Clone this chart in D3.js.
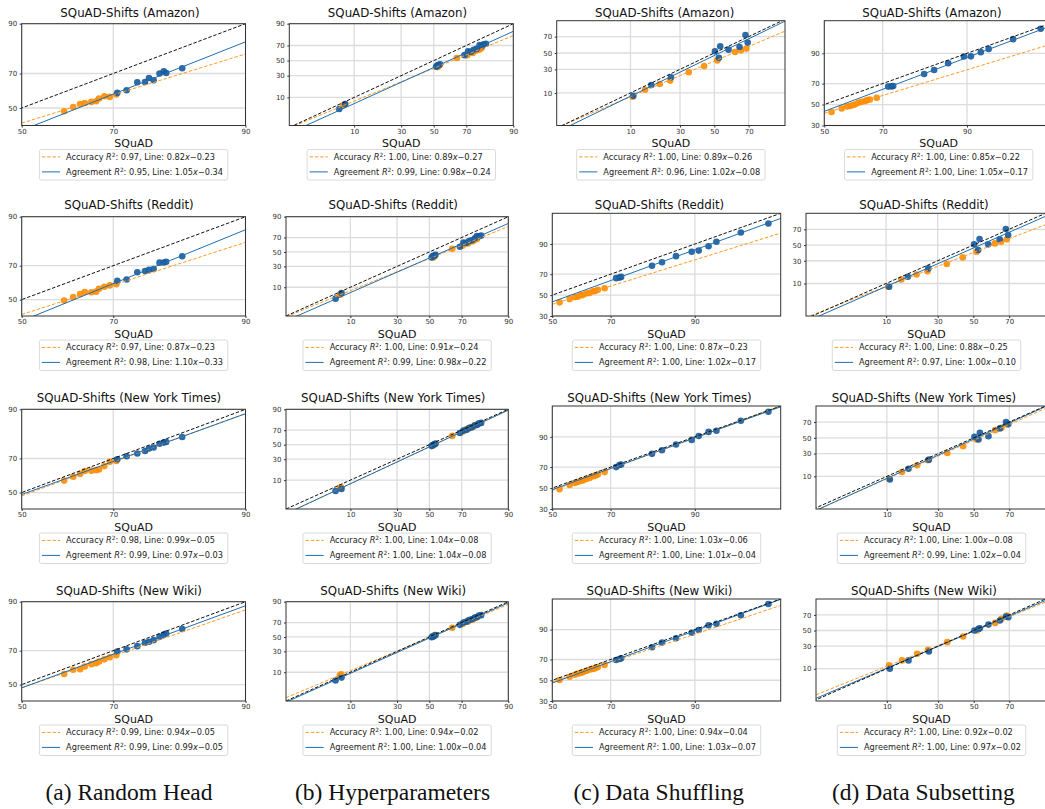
<!DOCTYPE html>
<html>
<head>
<meta charset="utf-8">
<script src="https://cdn.jsdelivr.net/npm/d3@7"></script>
<style>
  body { margin: 0; background: #fff; }
  svg { display: block; }
  text { font-family: "DejaVu Sans", sans-serif; }
  text.caption { font-family: "Liberation Serif", "Times New Roman", serif; }
</style>
</head>
<body>
<div id="chart"></div>
<script>
// ---- data (all values in %) ----
var shifts = ["Amazon", "Reddit", "New York Times", "New Wiki"];
var captions = ["(a) Random Head", "(b) Hyperparameters", "(c) Data Shuffling", "(d) Data Subsetting"];

// SQuAD (in-distribution) accuracy / agreement of each model group
var headAccX = [59.6, 61.6, 63.1, 64.1, 65.5, 66.5, 67.1, 68.2, 69.3, 70.6];
var headAgrX = [70.8, 72.6, 74.6, 76.0, 76.7, 77.5, 78.5, 79.2, 79.6, 82.1];
var hyperAccX = [7.3, 7.6, 52.5, 53.5, 64.5, 70.5, 72.5, 73.5, 75.0, 76.0, 77.0, 78.0];
var hyperAgrX = [6.4, 7.7, 51.5, 52.2, 53.0, 54.0, 69.0, 71.0, 72.5, 74.0, 75.5, 77.0, 78.0, 79.0, 80.0];
var shuffleAccX = [52.6, 56.2, 58.0, 59.0, 60.0, 60.8, 62.0, 63.1, 64.3, 65.0, 65.9, 68.1];
var shuffleAgrX = [71.7, 72.7, 73.2, 81.5, 83.8, 86.7, 89.5, 90.6, 92.0, 93.0, 95.5, 97.4];
var subsetAccX = [10.6, 14.5, 20.2, 25.0, 34.8, 43.8, 51.8, 62.4, 65.8, 68.8];
var subsetAgrX = [10.8, 16.8, 25.4, 50.4, 52.8, 53.6, 58.6, 65.0, 68.3, 69.5];

// shifted accuracy / agreement, one row per shift
var headAccY = [
  [48.0, 50.6, 52.4, 53.0, 53.7, 54.1, 55.7, 57.1, 56.7, 58.1],
  [49.4, 51.6, 53.4, 54.7, 54.5, 54.9, 56.7, 57.9, 58.7, 59.4],
  [57.3, 59.6, 61.2, 63.0, 63.2, 63.5, 63.9, 65.8, 68.2, 68.7],
  [56.5, 59.1, 59.4, 61.0, 62.4, 63.0, 63.9, 65.2, 66.4, 67.5]
];
var headAgrY = [
  [59.1, 60.6, 65.2, 65.4, 67.6, 66.3, 70.0, 71.2, 70.3, 72.7],
  [61.4, 62.2, 66.4, 67.1, 67.8, 68.2, 71.6, 71.7, 72.1, 74.9],
  [69.6, 71.2, 72.6, 73.9, 75.1, 75.6, 77.4, 77.9, 78.2, 80.4],
  [69.5, 70.7, 72.4, 74.1, 74.6, 75.4, 77.0, 78.0, 78.5, 80.5]
];
var hyperAccY = [
  [6.0, 6.3, 41.0, 43.0, 53.5, 57.5, 61.0, 60.5, 63.5, 64.5, 65.0, 66.8],
  [6.0, 6.4, 42.2, 44.0, 54.5, 59.0, 62.5, 62.0, 65.0, 65.2, 67.5, 68.0],
  [5.9, 6.2, 49.0, 50.8, 62.5, 68.0, 71.0, 71.5, 73.8, 74.0, 76.0, 76.8],
  [8.0, 8.8, 51.0, 52.8, 63.0, 68.2, 71.0, 71.2, 73.5, 73.8, 75.5, 76.2]
];
var hyperAgrY = [
  [4.6, 6.5, 41.5, 43.0, 43.8, 45.0, 57.5, 62.5, 62.0, 64.5, 66.0, 70.5, 69.5, 71.5, 72.0],
  [4.5, 6.8, 42.0, 44.0, 44.5, 46.0, 57.5, 63.5, 63.0, 65.5, 66.5, 69.0, 72.0, 71.5, 72.5],
  [4.7, 5.5, 48.0, 49.5, 50.3, 51.5, 66.5, 69.5, 70.2, 72.6, 73.5, 75.8, 76.2, 78.0, 78.5],
  [5.7, 7.0, 49.5, 50.8, 51.0, 52.8, 67.0, 70.0, 71.0, 73.0, 74.0, 76.0, 76.5, 78.2, 78.6]
];
// column (c): the Amazon row shows the subsetting models
var shufflingAccY = [
  [8.0, 11.9, 16.0, 18.8, 26.9, 33.7, 40.6, 51.3, 53.4, 55.6],
  [42.8, 46.0, 48.0, 48.3, 49.8, 50.0, 51.6, 52.2, 53.8, 54.0, 55.4, 56.8],
  [48.8, 53.0, 55.0, 56.0, 57.0, 57.5, 59.0, 60.0, 61.5, 62.0, 63.2, 65.5],
  [50.2, 53.5, 55.5, 56.5, 57.2, 58.0, 59.2, 60.5, 61.2, 62.0, 63.0, 65.0]
];
var shufflingAgrY = [
  [8.5, 15.2, 21.8, 52.2, 44.0, 58.6, 54.3, 57.7, 71.7, 63.1],
  [66.5, 67.0, 67.6, 77.0, 79.5, 83.6, 86.2, 86.8, 89.0, 91.0, 94.2, 96.4],
  [70.0, 71.8, 72.2, 80.4, 82.8, 86.2, 88.6, 90.4, 92.0, 92.4, 95.4, 97.2],
  [69.5, 70.5, 71.0, 79.8, 83.0, 85.6, 88.5, 89.8, 91.8, 92.3, 95.0, 97.3]
];
// column (d): the Amazon row shows the shuffling models
var subsettingAccY = [
  [42.6, 46.0, 48.0, 48.6, 49.3, 50.0, 51.7, 52.7, 53.4, 54.4, 55.0, 56.7],
  [8.2, 12.5, 16.3, 19.2, 26.3, 34.0, 41.2, 52.2, 54.4, 57.5],
  [8.7, 12.8, 18.0, 22.8, 30.8, 39.0, 47.8, 60.1, 63.1, 67.2],
  [12.1, 15.8, 21.8, 25.9, 34.8, 42.0, 50.0, 60.1, 65.2, 69.2]
];
var subsettingAgrY = [
  [67.3, 67.5, 67.9, 77.7, 80.6, 84.9, 88.5, 88.6, 90.5, 91.8, 94.9, 97.1],
  [8.2, 14.5, 21.8, 50.9, 43.4, 57.9, 50.9, 57.5, 70.4, 63.1],
  [8.3, 15.2, 23.4, 51.3, 47.8, 56.6, 52.2, 62.3, 70.0, 67.6],
  [10.0, 15.8, 24.1, 50.0, 52.2, 53.1, 57.9, 63.1, 68.0, 67.2]
];

// probit-space fits: rows = shifts, cols = (a)..(d)
var accR2 = [[0.97, 1.00, 1.00, 1.00], [0.97, 1.00, 1.00, 1.00], [0.98, 1.00, 1.00, 1.00], [0.99, 1.00, 1.00, 1.00]];
var accSlope = [[0.82, 0.89, 0.89, 0.85], [0.87, 0.91, 0.87, 0.88], [0.99, 1.04, 1.03, 1.00], [0.94, 0.94, 0.94, 0.92]];
var accIcpt = [[-0.23, -0.27, -0.26, -0.22], [-0.23, -0.24, -0.23, -0.25], [-0.05, -0.08, -0.06, -0.08], [-0.05, -0.02, -0.04, -0.02]];
var agrR2 = [[0.95, 0.99, 0.96, 1.00], [0.98, 0.99, 1.00, 0.97], [0.99, 1.00, 1.00, 0.99], [0.99, 1.00, 1.00, 1.00]];
var agrSlope = [[1.05, 0.98, 1.02, 1.05], [1.10, 0.98, 1.02, 1.00], [0.97, 1.04, 1.01, 1.02], [0.99, 1.00, 1.03, 0.97]];
var agrIcpt = [[-0.34, -0.24, -0.08, -0.17], [-0.33, -0.22, -0.17, -0.10], [-0.03, -0.08, -0.04, -0.04], [-0.05, -0.04, -0.07, -0.02]];

// tick labels
var ticksHead = [50, 70, 90];
var ticksHyper = [10, 30, 50, 70, 90];
var ticksShuffleX = [50, 70, 90];
var ticksShuffleY = [30, 50, 70, 90];
var ticksSubset = [10, 30, 50, 70];

// ---- layout ----
var W = 1045, H = 809;
var kinds = [
  ["head", "hyper", "subset", "shuffle"],
  ["head", "hyper", "shuffle", "subset"],
  ["head", "hyper", "shuffle", "subset"],
  ["head", "hyper", "shuffle", "subset"]
];
var xsets = {
  head: [headAccX, headAgrX], hyper: [hyperAccX, hyperAgrX],
  shuffle: [shuffleAccX, shuffleAgrX], subset: [subsetAccX, subsetAgrX]
};
var xticks = { head: ticksHead, hyper: ticksHyper, shuffle: ticksShuffleX, subset: ticksSubset };
var yticks = { head: ticksHead, hyper: ticksHyper, shuffle: ticksShuffleY, subset: ticksSubset };
var accY = [headAccY, hyperAccY, shufflingAccY, subsettingAccY];
var agrY = [headAgrY, hyperAgrY, shufflingAgrY, subsettingAgrY];

// axis limits (%)
var xLo = [[50, 1, 0.8, 50], [50, 1, 50, 0.7], [50, 1, 50, 1.0], [50, 1, 50, 1.0]];
var xHi = [[90, 90, 86, 98], [90, 90, 98, 86], [90, 90, 98, 86], [90, 90, 98, 86]];
var yLo = [[39.5, 1.2, 1, 30], [40, 1, 30, 0.9], [40, 1, 30, 0.9], [40, 1, 30, 0.9]];
var yHi = [[90, 90, 85, 98.2], [90, 90, 98, 85.5], [90, 90, 98, 85.5], [90, 90, 98, 85.5]];

var boxLeft = [[21.7, 289.3, 556.7, 824.3], [21.7, 286, 552.3, 806], [21.7, 286, 552.3, 816], [21.7, 286, 552.3, 816]];
var boxRight = [[245.5, 513.3, 785, 1053], [245.5, 508.3, 780.7, 1047], [245.5, 508.3, 780.7, 1047], [245.5, 508.3, 780.7, 1047]];
var boxTop = [[23.7, 23.7, 20.7, 20.7], [216.7, 216.7, 213.3, 213.3], [409.3, 409.3, 406, 406], [601.7, 601.7, 599, 599]];
var boxBottom = [125.5, 316, 509, 701];
var titleY = [16.6, 209.3, 401.6, 595];
var titleX = [[130, 397.5, 664.7, 932], [129, 393.3, 659.5, 924], [129, 393.3, 659.5, 924], [129, 393.3, 659.5, 924]];
var captionX = [129, 392.5, 658.7, 923.3];

var accColor = "#ff8c00", accLine = "#ff9a26";
var agrColor = "#175a9c", agrLine = "#1f6fb2";

// inverse normal CDF (Acklam)
function probit(p) {
  var a = [-3.969683028665376e+01, 2.209460984245205e+02, -2.759285104469687e+02, 1.383577518672690e+02, -3.066479806614716e+01, 2.506628277459239e+00];
  var b = [-5.447609879822406e+01, 1.615858368580409e+02, -1.556989798598866e+02, 6.680131188771972e+01, -1.328068155288572e+01];
  var c = [-7.784894002430293e-03, -3.223964580411365e-01, -2.400758277161838e+00, -2.549732539343734e+00, 4.374664141464968e+00, 2.938163982698783e+00];
  var d = [7.784695709041462e-03, 3.224671290700398e-01, 2.445134137142996e+00, 3.754408661907416e+00];
  var plow = 0.02425, q, r;
  if (p < plow) {
    q = Math.sqrt(-2 * Math.log(p));
    return (((((c[0]*q+c[1])*q+c[2])*q+c[3])*q+c[4])*q+c[5]) / ((((d[0]*q+d[1])*q+d[2])*q+d[3])*q+1);
  }
  if (p <= 1 - plow) {
    q = p - 0.5; r = q * q;
    return (((((a[0]*r+a[1])*r+a[2])*r+a[3])*r+a[4])*r+a[5])*q / (((((b[0]*r+b[1])*r+b[2])*r+b[3])*r+b[4])*r+1);
  }
  q = Math.sqrt(-2 * Math.log(1 - p));
  return -(((((c[0]*q+c[1])*q+c[2])*q+c[3])*q+c[4])*q+c[5]) / ((((d[0]*q+d[1])*q+d[2])*q+d[3])*q+1);
}
function pp(v) { return probit(v / 100); }

var svg = d3.select("#chart").append("svg")
    .attr("width", W).attr("height", H);

function legendText(g, y, label, r2, slope, icpt) {
  var t = g.append("text").attr("y", y).attr("font-size", 8.2).attr("fill", "#222");
  t.append("tspan").text(label + " ");
  t.append("tspan").attr("font-style", "italic").text("R");
  t.append("tspan").attr("dy", -3.2).attr("font-size", 5.8).text("2");
  t.append("tspan").attr("dy", 3.2).text(": " + r2.toFixed(2) + ", Line: " + slope.toFixed(2));
  t.append("tspan").attr("font-style", "italic").text("x");
  t.append("tspan").text("\u2212" + Math.abs(icpt).toFixed(2));
  return t;
}

function drawPanel(r, c) {
  var kind = kinds[r][c];
  var x0 = boxLeft[r][c], x1 = boxRight[r][c];
  var top = boxTop[r][c], bottom = boxBottom[r];
  var cx = (x0 + x1) / 2;

  var xs = d3.scaleLinear().domain([pp(xLo[r][c]), pp(xHi[r][c])]).range([x0, x1]);
  var ys = d3.scaleLinear().domain([pp(yLo[r][c]), pp(yHi[r][c])]).range([bottom, top]);

  var g = svg.append("g");
  var clipId = "clip-" + r + "-" + c;
  g.append("clipPath").attr("id", clipId).append("rect")
      .attr("x", x0).attr("y", top).attr("width", x1 - x0).attr("height", bottom - top);

  // grid
  var xt = xticks[kind], yt = yticks[kind];
  g.selectAll(".gx").data(xt).enter().append("line")
      .attr("x1", function (d) { return xs(pp(d)); }).attr("x2", function (d) { return xs(pp(d)); })
      .attr("y1", top).attr("y2", bottom)
      .attr("stroke", "#dcdcdc").attr("stroke-width", 1.3);
  g.selectAll(".gy").data(yt).enter().append("line")
      .attr("y1", function (d) { return ys(pp(d)); }).attr("y2", function (d) { return ys(pp(d)); })
      .attr("x1", x0).attr("x2", x1)
      .attr("stroke", "#dcdcdc").attr("stroke-width", 1.3);

  var plot = g.append("g").attr("clip-path", "url(#" + clipId + ")");

  // points
  var ax = xsets[kind][0], bx = xsets[kind][1];
  var ay = accY[c][r], by = agrY[c][r];
  plot.selectAll(".acc").data(ax).enter().append("circle")
      .attr("cx", function (d) { return xs(pp(d)); })
      .attr("cy", function (d, i) { return ys(pp(ay[i])); })
      .attr("r", 3.3).attr("fill", accColor).attr("fill-opacity", 0.9);
  plot.selectAll(".agr").data(bx).enter().append("circle")
      .attr("cx", function (d) { return xs(pp(d)); })
      .attr("cy", function (d, i) { return ys(pp(by[i])); })
      .attr("r", 3.3).attr("fill", agrColor).attr("fill-opacity", 0.9);

  // lines in probit space
  var line = d3.line();
  var xd = xs.domain();
  var lo = Math.min(xd[0], ys.domain()[0]), hi = Math.max(xd[1], ys.domain()[1]);
  function fit(slope, icpt) {
    return line(xd.map(function (v) { return [xs(v), ys(slope * v + icpt)]; }));
  }
  plot.append("path").attr("d", fit(accSlope[r][c], accIcpt[r][c]))
      .attr("fill", "none").attr("stroke", accLine).attr("stroke-width", 1).attr("stroke-dasharray", "3.5,1.8");
  plot.append("path").attr("d", fit(agrSlope[r][c], agrIcpt[r][c]))
      .attr("fill", "none").attr("stroke", agrLine).attr("stroke-width", 1);
  plot.append("path").attr("d", line([[xs(lo), ys(lo)], [xs(hi), ys(hi)]]))
      .attr("fill", "none").attr("stroke", "#111").attr("stroke-width", 1).attr("stroke-dasharray", "3.5,1.8");

  // frame
  g.append("rect").attr("x", x0).attr("y", top).attr("width", x1 - x0).attr("height", bottom - top)
      .attr("fill", "none").attr("stroke", "#333").attr("stroke-width", 1);

  // axes
  var xa = g.append("g").attr("transform", "translate(0," + bottom + ")")
      .call(d3.axisBottom(xs).tickValues(xt.map(pp)).tickFormat(function (d, i) { return xt[i]; })
        .tickSize(2).tickPadding(1.5));
  var ya = g.append("g").attr("transform", "translate(" + x0 + ",0)")
      .call(d3.axisLeft(ys).tickValues(yt.map(pp)).tickFormat(function (d, i) { return yt[i]; })
        .tickSize(2).tickPadding(2.5));
  [xa, ya].forEach(function (a) {
    a.select(".domain").remove();
    a.selectAll("line").attr("stroke", "#333");
    a.selectAll("text").attr("font-size", 7).attr("fill", "#333").attr("font-family", "DejaVu Sans");
  });

  // title + x label
  g.append("text").attr("x", titleX[r][c]).attr("y", titleY[r]).attr("text-anchor", "middle")
      .attr("font-size", 11.8).attr("fill", "#111").text("SQuAD-Shifts (" + shifts[r] + ")");
  g.append("text").attr("x", cx).attr("y", bottom + 21.5).attr("text-anchor", "middle")
      .attr("font-size", 11).attr("fill", "#111").text("SQuAD");

  // legend
  var lg = g.append("g");
  var ltop = bottom + 24;
  var box = lg.append("rect").attr("y", ltop).attr("height", 30.5).attr("rx", 2)
      .attr("fill", "#fff").attr("stroke", "#d0d0d0").attr("stroke-width", 0.8);
  var t1 = legendText(lg, ltop + 10.3, "Accuracy", accR2[r][c], accSlope[r][c], accIcpt[r][c]);
  var t2 = legendText(lg, ltop + 25.3, "Agreement", agrR2[r][c], agrSlope[r][c], agrIcpt[r][c]);
  var tw = Math.max(t1.node().getComputedTextLength(), t2.node().getComputedTextLength());
  var bw = tw + 31.5;
  var bl = cx - bw / 2;
  box.attr("x", bl).attr("width", bw);
  t1.attr("x", bl + 26.7); t2.attr("x", bl + 26.7);
  lg.append("line").attr("x1", bl + 2.5).attr("x2", bl + 20.7).attr("y1", ltop + 7.4).attr("y2", ltop + 7.4)
      .attr("stroke", accLine).attr("stroke-width", 1).attr("stroke-dasharray", "3.5,1.8");
  lg.append("line").attr("x1", bl + 2.5).attr("x2", bl + 20.7).attr("y1", ltop + 22.4).attr("y2", ltop + 22.4)
      .attr("stroke", agrLine).attr("stroke-width", 1);
}

for (var r = 0; r < 4; r++) {
  for (var c = 0; c < 4; c++) drawPanel(r, c);
}

svg.selectAll(".caption").data(captions).enter().append("text")
    .attr("class", "caption")
    .attr("x", function (d, i) { return captionX[i]; })
    .attr("y", 800)
    .attr("text-anchor", "middle")
    .attr("font-size", 23.5).attr("fill", "#111")
    .text(function (d) { return d; });
</script>
</body>
</html>
